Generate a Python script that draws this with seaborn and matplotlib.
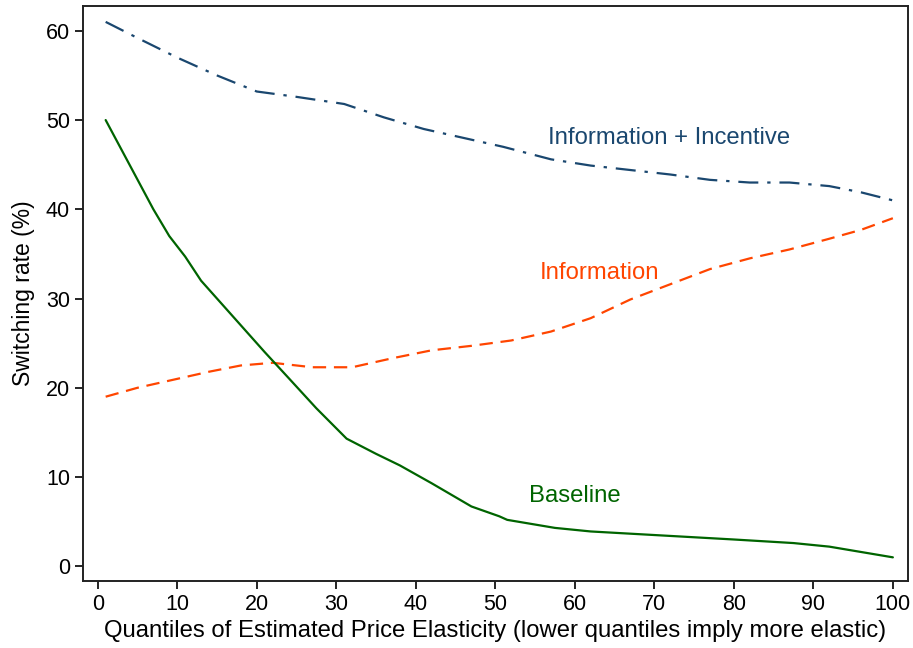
import matplotlib
matplotlib.use("Agg")
import matplotlib.pyplot as plt
import seaborn as sns
import pandas as pd

# quantile positions and switching rates (%)
incentive_x = [1, 5, 10, 15, 20, 25, 31, 36, 41, 46, 51, 57, 62, 67, 72, 77, 82, 87, 92, 96, 100]
incentive_y = [61.0, 59.2, 57.0, 55.0, 53.2, 52.6, 51.8, 50.3, 49.0, 48.0, 47.0, 45.6, 44.9, 44.4, 43.9, 43.3, 43.0, 43.0, 42.6, 41.9, 41.0]

info_x = [1, 5, 10, 14, 18, 22, 27, 32, 37, 42, 47, 52, 57, 62, 67, 72, 77, 82, 87, 92, 96, 100]
info_y = [19.0, 20.0, 21.0, 21.8, 22.5, 22.8, 22.3, 22.3, 23.3, 24.2, 24.7, 25.3, 26.3, 27.8, 29.9, 31.6, 33.3, 34.5, 35.5, 36.7, 37.7, 39.0]

base_x = [1, 4, 7, 9, 11, 13, 15, 18, 21, 24, 27.5, 31.3, 35, 38, 42, 47, 50.5, 51.5, 57.5, 62, 70, 80, 87.5, 92, 96, 100]
base_y = [50.0, 45.0, 40.0, 37.0, 34.7, 32.0, 30.0, 27.0, 24.0, 21.1, 17.7, 14.3, 12.6, 11.3, 9.3, 6.7, 5.6, 5.2, 4.3, 3.9, 3.5, 3.0, 2.6, 2.2, 1.6, 1.0]

labels = ["Information + Incentive", "Information", "Baseline"]
colors = ["#1a476f", "#ff4500", "#006400"]

sns.set_style("ticks")
plt.rcParams["font.family"] = ["Liberation Sans", "DejaVu Sans"]
plt.rcParams["text.color"] = "black"
plt.rcParams["axes.labelcolor"] = "black"

fig = plt.figure(figsize=(9.13, 6.48), dpi=100)
ax = fig.add_axes([0.091, 0.103, 0.9035, 0.888])

df_inc = pd.DataFrame({"q": incentive_x, "rate": incentive_y})
df_info = pd.DataFrame({"q": info_x, "rate": info_y})
df_base = pd.DataFrame({"q": base_x, "rate": base_y})

sns.lineplot(data=df_inc, x="q", y="rate", ax=ax, color=colors[0], lw=1.6,
             estimator=None, sort=False)
ax.lines[-1].set_dashes([9, 4, 1.5, 4])
sns.lineplot(data=df_info, x="q", y="rate", ax=ax, color=colors[1], lw=1.6,
             estimator=None, sort=False)
ax.lines[-1].set_dashes([6, 3.5])
sns.lineplot(data=df_base, x="q", y="rate", ax=ax, color=colors[2], lw=1.6,
             estimator=None, sort=False)

ax.text(56.6, 48.0, labels[0], color=colors[0], fontsize=17.2, ha="left", va="center")
ax.text(55.6, 32.9, labels[1], color=colors[1], fontsize=17.2, ha="left", va="center")
ax.text(54.3, 7.9, labels[2], color=colors[2], fontsize=17.2, ha="left", va="center")

ax.set_xlim(-1.84, 101.9)
ax.set_ylim(-1.68, 62.8)
ax.set_xticks(range(0, 101, 10))
ax.set_yticks(range(0, 61, 10))
ax.tick_params(labelsize=15.5, length=6, width=1.2, direction="out", colors="black")
for s in ax.spines.values():
    s.set_visible(True)
    s.set_linewidth(1.4)
    s.set_color("#222222")

ax.set_xlabel("Quantiles of Estimated Price Elasticity (lower quantiles imply more elastic)",
              fontsize=17.2, labelpad=3, color="black")
ax.set_ylabel("Switching rate (%)", fontsize=16.5, labelpad=8, color="black")

fig.savefig("out.png", dpi=100)
